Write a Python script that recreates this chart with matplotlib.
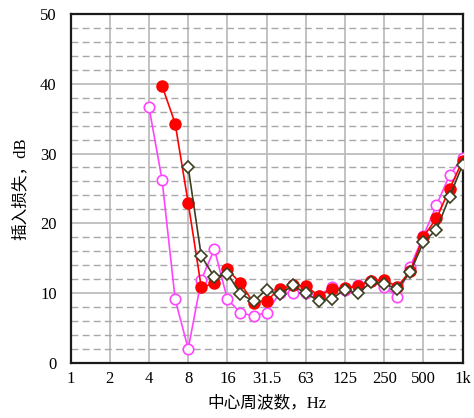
import matplotlib
matplotlib.use("Agg")
import matplotlib.pyplot as plt
import numpy as np

# One-third-octave band centres from 1 Hz up to 1 kHz
bands = ["1", "1.25", "1.6", "2", "2.5", "3.15", "4", "5", "6.3", "8", "10",
         "12.5", "16", "20", "25", "31.5", "40", "50", "63", "80", "100",
         "125", "160", "200", "250", "315", "400", "500", "630", "800", "1k"]

octave_labels = ["1", "2", "4", "8", "16", "31.5", "63", "125", "250", "500", "1k"]

# Insertion loss (dB) per band for three configurations
bands_a = ["4", "5", "6.3", "8", "10", "12.5", "16", "20", "25", "31.5", "40",
           "50", "63", "80", "100", "125", "160", "200", "250", "315", "400",
           "500", "630", "800", "1k"]
loss_a = [36.6, 26.2, 9.1, 2.0, 11.9, 16.3, 9.1, 7.2, 6.7, 7.2, 10.0,
          9.95, 10.0, 9.6, 10.9, 10.5, 11.2, 11.8, 10.9, 9.5, 13.8,
          18.2, 22.6, 26.9, 29.4]

bands_b = ["5", "6.3", "8", "10", "12.5", "16", "20", "25", "31.5", "40",
           "50", "63", "80", "100", "125", "160", "200", "250", "315", "400",
           "500", "630", "800", "1k"]
loss_b = [39.7, 34.3, 22.9, 10.8, 11.4, 13.4, 11.4, 8.6, 8.9, 10.6,
          11.1, 11.0, 9.6, 10.6, 10.7, 11.0, 11.7, 11.9, 10.9, 13.2,
          18.1, 20.7, 24.9, 29.0]

bands_c = ["8", "10", "12.5", "16", "20", "25", "31.5", "40",
           "50", "63", "80", "100", "125", "160", "200", "250", "315", "400",
           "500", "630", "800", "1k"]
loss_c = [28.0, 15.3, 12.3, 12.8, 9.9, 8.8, 10.5, 9.8,
          11.1, 9.95, 8.9, 9.2, 10.5, 9.95, 11.6, 11.3, 10.6, 13.0,
          17.3, 19.1, 23.8, 28.4]


def octave_pos(labels):
    # position on an octave axis: three bands per octave
    return np.array([bands.index(b) / 3.0 for b in labels])


serif = ["Liberation Serif", "Noto Sans CJK SC"]
plt.rcParams["font.family"] = serif

fig = plt.figure(figsize=(4.74, 4.18), dpi=100)
ax = fig.add_axes([0.149, 0.132, 0.827, 0.8345])

ax.set_xlim(0, 10)
ax.set_ylim(0, 50)

# grid: solid majors, dashed minor horizontals
ax.set_yticks(np.arange(0, 51, 10))
ax.set_yticks(np.arange(0, 51, 2), minor=True)
ax.set_xticks(np.arange(0, 11))
ax.set_xticklabels(octave_labels)
ax.grid(True, which="major", color="#bdbdbd", linewidth=1.3, linestyle="-")
ax.grid(True, which="minor", axis="y", color="#a8a8a8", linewidth=1.0,
        linestyle=(0, (5, 3)))
ax.set_axisbelow(True)
ax.tick_params(which="both", length=0, labelsize=12, pad=6)
ax.tick_params(axis="y", pad=10)

for s in ax.spines.values():
    s.set_linewidth(1.6)
    s.set_color("#1a1a1a")

ax.plot(octave_pos(bands_a), loss_a, color="#ff44ff", linewidth=1.2,
        marker="o", markersize=7.5, markerfacecolor="white",
        markeredgecolor="#ff44ff", markeredgewidth=1.2, zorder=3)
ax.plot(octave_pos(bands_b), loss_b, color="#ff0000", linewidth=1.2,
        marker="o", markersize=8, markerfacecolor="#ff0000",
        markeredgecolor="#ff0000", zorder=4)
ax.plot(octave_pos(bands_c), loss_c, color="#3d3d1f", linewidth=1.2,
        marker="D", markersize=6, markerfacecolor="white",
        markeredgecolor="#3d3d1f", markeredgewidth=1.2, zorder=5)

ax.set_xlabel("中心周波数，Hz", fontsize=12, labelpad=6)
ax.set_ylabel("插入损失，dB", fontsize=12, labelpad=8)

fig.savefig("out.png", dpi=100)
